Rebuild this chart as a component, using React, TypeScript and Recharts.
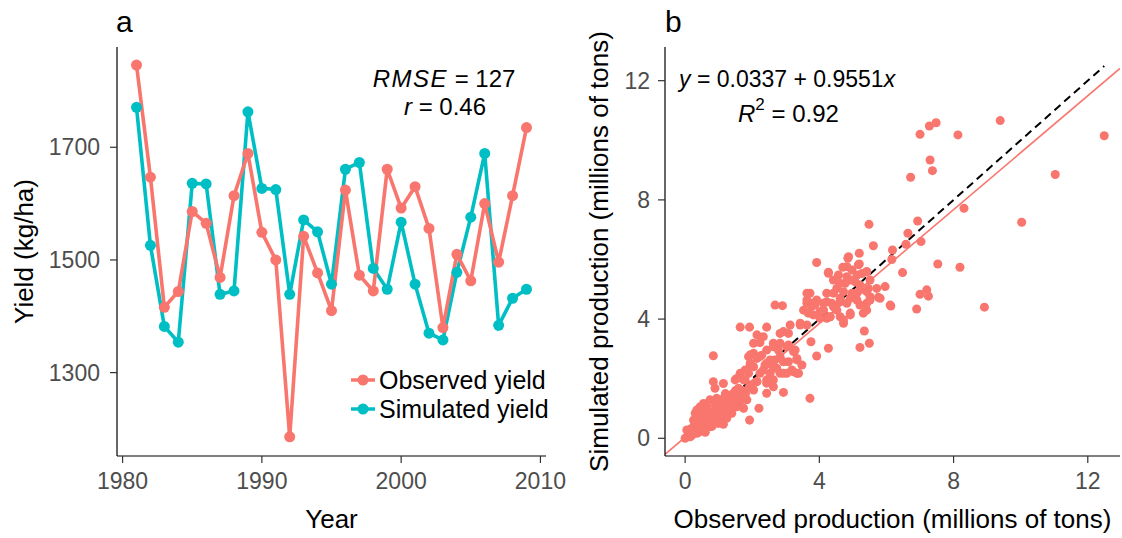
import React from 'react';
import { LineChart, Line, XAxis, YAxis, ZAxis, ScatterChart, Scatter, ReferenceLine, Legend } from 'recharts';

const FONT = '"Liberation Sans", Arial, sans-serif';
const RED = '#F8766D';
const TEAL = '#00BFC4';

const YEARS = [1981, 1982, 1983, 1984, 1985, 1986, 1987, 1988, 1989, 1990, 1991, 1992, 1993, 1994, 1995, 1996, 1997, 1998, 1999, 2000, 2001, 2002, 2003, 2004, 2005, 2006, 2007, 2008, 2009];
const OBSERVED_YIELD = [1846, 1647, 1416, 1444, 1586, 1565, 1469, 1614, 1689, 1549, 1500, 1186, 1542, 1477, 1410, 1624, 1473, 1445, 1661, 1592, 1630, 1556, 1380, 1510, 1463, 1600, 1496, 1614, 1735];
const SIMULATED_YIELD = [1771, 1526, 1382, 1354, 1636, 1635, 1439, 1445, 1763, 1627, 1625, 1439, 1571, 1550, 1457, 1661, 1673, 1485, 1448, 1567, 1457, 1370, 1358, 1478, 1576, 1689, 1384, 1432, 1448];
const YEAR_TICKS = [1980, 1990, 2000, 2010];
const YIELD_TICKS = [1300, 1500, 1700];
const YEAR_DOMAIN = [1979.6, 2010.4];
const YIELD_DOMAIN = [1152, 1878];
const LEGEND_ORDER = ['Observed yield', 'Simulated yield'];

const OBS_PROD = [
  7.0, 7.28, 7.48, 8.13, 9.39, 12.49, 7.3, 7.37, 6.72, 11.03, 8.31, 10.03, 6.93, 5.48, 6.64, 7.03, 6.58, 6.18, 5.61, 5.19,
  7.53, 8.19, 6.48, 3.92, 8.92, 6.9, 7.0, 7.25, 7.2, 5.96, 5.76, 6.11, 5.41, 5.31, 5.49, 5.21, 5.34, 4.72, 2.68, 2.9,
  1.64, 1.92, 2.43, 0.84, 3.72, 2.93, 1.92, 2.2, 1.14, 4.27, 3.92, 3.75, 6.16, 6.13,
  4.27, 4.42, 4.7, 4.85, 4.97, 5.19, 5.41, 4.52, 4.77, 5.07, 5.21, 4.97, 5.46, 4.22, 4.62, 4.82, 4.37, 4.12, 5.12, 5.51,
  4.92, 4.62, 4.32, 3.63, 3.63, 3.53, 3.82, 3.67, 4.02, 5.27, 4.82, 3.92, 4.12, 4.22, 4.47, 3.82,
  2.14, 2.23, 2.04, 2.83, 3.13, 3.43, 3.08, 2.63, 2.43, 2.78, 3.03, 3.23, 3.33, 3.48, 3.18, 2.93, 2.68, 2.38, 2.14, 1.89,
  1.94, 2.23, 2.53, 2.83, 3.03, 3.33, 2.43, 2.14, 2.63, 2.43, 2.04, 1.74, 1.59, 1.49, 1.64, 2.73, 1.89, 1.79, 2.04, 2.28,
  0.84, 1.14, 0.89, 0.35, 0.55, 0.74, 0.94, 1.19, 1.39, 1.64, 1.84, 1.24, 1.54, 1.74, 1.39, 0.94, 0.69, 0.45, 0.25, 0.1,
  0.0, 0.15, 0.35, 0.55, 0.74, 0.84, 1.09, 0.69, 0.25, 0.5, 1.04, 0.45, 0.65, 0.3, 0.05, 0.2, 0.4, 0.6, 0.99, 1.24,
  1.44, 1.59,
  0.2, 0.3, 0.4, 0.5, 0.6, 0.7, 0.8, 0.9, 1.0, 1.1, 1.2, 1.3, 1.4, 1.5, 1.6, 1.7, 1.8, 0.3, 0.5, 0.7,
  0.9, 1.1, 1.3, 1.5, 0.6, 0.8, 1.0, 1.2, 0.4, 0.15, 1.9, 2.0, 1.7, 0.95, 1.15,
  1.94, 2.43,
  2.33, 2.93, 2.63, 2.83, 3.08, 3.28, 1.94, 2.23, 2.53, 2.83, 3.08, 3.33, 2.04, 2.33, 2.63, 2.93, 3.23, 3.38, 1.54, 1.79,
  2.14, 2.43, 2.63, 3.77, 4.52,
  4.87, 5.16, 4.82, 4.57, 4.27, 5.12, 5.41, 4.62, 4.92, 5.21, 5.51, 4.72, 5.12, 5.41, 5.71, 4.42, 4.22, 3.72, 3.63, 3.87,
  4.12, 4.42, 4.62, 4.92, 5.21, 5.51, 5.81, 5.41, 4.92, 4.72, 4.32, 4.02, 3.63, 3.43,
];
const SIM_PROD = [
  10.2, 10.48, 10.59, 10.18, 10.66, 10.15, 9.34, 8.98, 8.76, 8.85, 7.72, 7.25, 7.29, 7.18, 6.88, 6.6, 6.51, 6.32, 6.46, 6.21,
  5.85, 5.74, 5.56, 5.9, 4.4, 4.34, 4.83, 4.77, 4.98, 5.09, 4.73, 4.47, 4.53, 4.2, 3.19, 3.05, 3.6, 3.86, 4.47, 4.45,
  3.73, 3.73, 3.73, 2.77, 1.34, 1.54, 0.61, 1.01, 0.47, 3.02, 2.76, 3.24, 6.0, 4.44,
  5.57, 5.31, 5.74, 6.04, 5.65, 5.85, 5.59, 5.03, 5.2, 5.25, 4.98, 4.87, 5.03, 4.87, 4.7, 4.53, 4.53, 4.53, 4.64, 4.75,
  4.14, 4.08, 4.08, 4.87, 4.53, 4.3, 4.53, 4.2, 4.25, 5.53, 5.42, 4.64, 4.3, 4.03, 4.36, 4.14,
  3.47, 3.21, 3.19, 3.52, 3.8, 3.8, 3.52, 3.19, 2.96, 2.96, 3.07, 2.91, 2.63, 2.46, 2.29, 2.57, 2.63, 2.46, 2.68, 2.74,
  2.46, 2.18, 2.18, 2.18, 2.18, 2.18, 1.96, 1.9, 1.73, 1.51, 1.62, 1.96, 1.68, 1.96, 2.18, 2.35, 2.18, 2.29, 2.85, 2.79,
  1.9, 1.84, 1.68, 0.95, 1.17, 1.29, 1.34, 1.4, 1.45, 1.4, 1.29, 1.17, 1.06, 1.01, 0.84, 0.95, 0.84, 0.61, 0.39, 0.17,
  0.0, 0.05, 0.17, 0.28, 0.39, 0.61, 0.72, 0.61, 0.61, 0.89, 1.06, 1.06, 1.06, 0.84, 0.28, 0.22, 0.39, 0.5, 0.5, 0.67,
  1.51, 1.23,
  0.1, 0.3, 0.2, 0.5, 0.7, 0.5, 0.8, 0.7, 0.9, 1.0, 0.9, 1.2, 1.1, 1.3, 1.5, 1.6, 1.5, 0.5, 0.3, 0.9,
  1.1, 1.3, 1.0, 1.6, 0.2, 0.4, 0.6, 1.5, 0.7, 0.3, 1.7, 1.8, 1.3, 1.2, 0.8,
  2.52, 2.52,
  3.41, 3.58, 3.07, 3.19, 3.13, 2.96, 2.8, 2.74, 2.63, 2.74, 2.57, 2.68, 2.4, 2.29, 2.35, 2.18, 2.23, 2.18, 2.01, 1.96,
  1.9, 1.85, 1.96, 4.42, 4.3,
  6.09, 5.82, 5.76, 5.48, 5.54, 5.48, 5.59, 5.2, 5.31, 5.14, 5.31, 4.92, 4.87, 4.92, 5.03, 4.87, 4.58, 4.87, 4.64, 4.47,
  4.3, 4.42, 4.58, 4.7, 4.47, 4.64, 4.7, 4.3, 4.2, 3.97, 4.08, 4.03, 3.8, 3.86,
];
const PROD_TICKS = [0, 4, 8, 12];
const PROD_X_DOMAIN = [-0.6, 12.96];
const PROD_Y_DOMAIN = [-0.594, 13.13];
const FIT_INTERCEPT = 0.0337;
const FIT_SLOPE = 0.9551;

const yieldData = YEARS.map((year, i) => ({ year, obs: OBSERVED_YIELD[i], sim: SIMULATED_YIELD[i] }));
const prodData = OBS_PROD.map((x, i) => ({ x, y: SIM_PROD[i] }));
const maxObs = Math.max(...OBS_PROD);
const fitAt = (x: number) => FIT_INTERCEPT + FIT_SLOPE * x;

const tickStyle = { fill: '#4D4D4D', fontSize: 23, fontFamily: FONT };
const axisLine = { stroke: '#000', strokeWidth: 1.2 };
const tickLine = { stroke: '#333', strokeWidth: 1.2 };
const titleStyle = { fill: '#000', fontSize: 26, fontFamily: FONT };

const LegendContent = (props: any) => {
  const payload = [...(props.payload || [])].sort(
    (a: any, b: any) => LEGEND_ORDER.indexOf(a.value) - LEGEND_ORDER.indexOf(b.value)
  );
  return (
    <div style={{ fontFamily: FONT }}>
      {payload.map((p: any) => (
        <div key={p.value} style={{ display: 'flex', alignItems: 'center', height: 28.6 }}>
          <svg width={24} height={14}>
            <line x1={0} x2={24} y1={7} y2={7} stroke={p.color} strokeWidth={3.5} />
            <circle cx={12} cy={7} r={5.5} fill={p.color} />
          </svg>
          <span style={{ marginLeft: 4, fontSize: 25, color: '#000', lineHeight: '28px' }}>{p.value}</span>
        </div>
      ))}
    </div>
  );
};

export default function App() {
  return (
    <div style={{ position: 'absolute', left: 0, top: 0, width: 1122, height: 538, background: '#fff', overflow: 'hidden' }}>
      <div style={{ position: 'absolute', left: 0, top: 0 }}>
        <LineChart width={600} height={538} data={yieldData} margin={{ top: 47, right: 54, bottom: 0, left: 0 }}>
          <XAxis
            dataKey="year"
            type="number"
            domain={YEAR_DOMAIN}
            allowDataOverflow
            ticks={YEAR_TICKS}
            height={82}
            tick={tickStyle}
            tickSize={7}
            tickMargin={10}
            axisLine={axisLine}
            tickLine={tickLine}
            label={{ value: 'Year', position: 'insideBottom', offset: 10, style: titleStyle }}
          />
          <YAxis
            type="number"
            domain={YIELD_DOMAIN}
            allowDataOverflow
            ticks={YIELD_TICKS}
            width={117}
            tick={tickStyle}
            tickSize={7}
            tickMargin={10}
            axisLine={axisLine}
            tickLine={tickLine}
            label={{ value: 'Yield (kg/ha)', angle: -90, position: 'insideLeft', offset: 24, style: { ...titleStyle, textAnchor: 'middle' } }}
          />
          <Line
            type="linear"
            dataKey="sim"
            name="Simulated yield"
            stroke={TEAL}
            strokeWidth={3.6}
            dot={{ r: 5.5, fill: TEAL, stroke: TEAL, strokeWidth: 0 }}
            isAnimationActive={false}
          />
          <Line
            type="linear"
            dataKey="obs"
            name="Observed yield"
            stroke={RED}
            strokeWidth={3.6}
            dot={{ r: 5.5, fill: RED, stroke: RED, strokeWidth: 0 }}
            isAnimationActive={false}
          />
          <Legend
            layout="vertical"
            align="center"
            verticalAlign="middle"
            content={LegendContent}
            wrapperStyle={{ left: 351, top: 366, width: 210 }}
          />
        </LineChart>
      </div>
      <div style={{ position: 'absolute', left: 560, top: 0 }}>
        <ScatterChart width={562} height={538} margin={{ top: 47, right: 2, bottom: 0, left: 0 }}>
          <XAxis
            dataKey="x"
            type="number"
            domain={PROD_X_DOMAIN}
            allowDataOverflow
            ticks={PROD_TICKS}
            height={82}
            tick={tickStyle}
            tickSize={7}
            tickMargin={10}
            axisLine={axisLine}
            tickLine={tickLine}
            label={{ value: 'Observed production (millions of tons)', position: 'insideBottom', offset: 10, style: titleStyle }}
          />
          <YAxis
            dataKey="y"
            type="number"
            domain={PROD_Y_DOMAIN}
            allowDataOverflow
            ticks={PROD_TICKS}
            width={105}
            tick={tickStyle}
            tickSize={7}
            tickMargin={8}
            axisLine={axisLine}
            tickLine={tickLine}
            label={{ value: 'Simulated production (millions of tons)', angle: -90, position: 'insideLeft', offset: 39, style: { ...titleStyle, textAnchor: 'middle' } }}
          />
          <ZAxis range={[80, 80]} />
          <Scatter data={prodData} fill={RED} shape="circle" isAnimationActive={false} />
          <ReferenceLine
            segment={[{ x: PROD_X_DOMAIN[0], y: fitAt(PROD_X_DOMAIN[0]) }, { x: PROD_X_DOMAIN[1], y: fitAt(PROD_X_DOMAIN[1]) }]}
            stroke={RED}
            strokeWidth={1.6}
            ifOverflow="hidden"
          />
          <ReferenceLine
            segment={[{ x: 0, y: 0 }, { x: maxObs, y: maxObs }]}
            stroke="#000"
            strokeWidth={2}
            strokeDasharray="8 5"
            ifOverflow="hidden"
          />
        </ScatterChart>
      </div>
      <svg width={1122} height={538} style={{ position: 'absolute', left: 0, top: 0, pointerEvents: 'none' }} fontFamily={FONT}>
        <text x={116} y={32} fontSize={30} fill="#000">a</text>
        <text x={665} y={32} fontSize={30} fill="#000">b</text>
        <text x={444} y={86.5} fontSize={24} textAnchor="middle" fill="#000">
          <tspan fontStyle="italic" letterSpacing={1.5}>RMSE</tspan> = 127
        </text>
        <text x={445} y={115} fontSize={24} textAnchor="middle" fill="#000">
          <tspan fontStyle="italic">r</tspan> = 0.46
        </text>
        <text x={679} y={86.5} fontSize={23} fill="#000">
          <tspan fontStyle="italic">y</tspan> = 0.0337 + 0.9551<tspan fontStyle="italic">x</tspan>
        </text>
        <text x={738} y={121.5} fontSize={24} fill="#000">
          <tspan fontStyle="italic">R</tspan>
          <tspan fontSize={17} dy={-12}>2</tspan>
          <tspan dy={12}> = 0.92</tspan>
        </text>
      </svg>
    </div>
  );
}
